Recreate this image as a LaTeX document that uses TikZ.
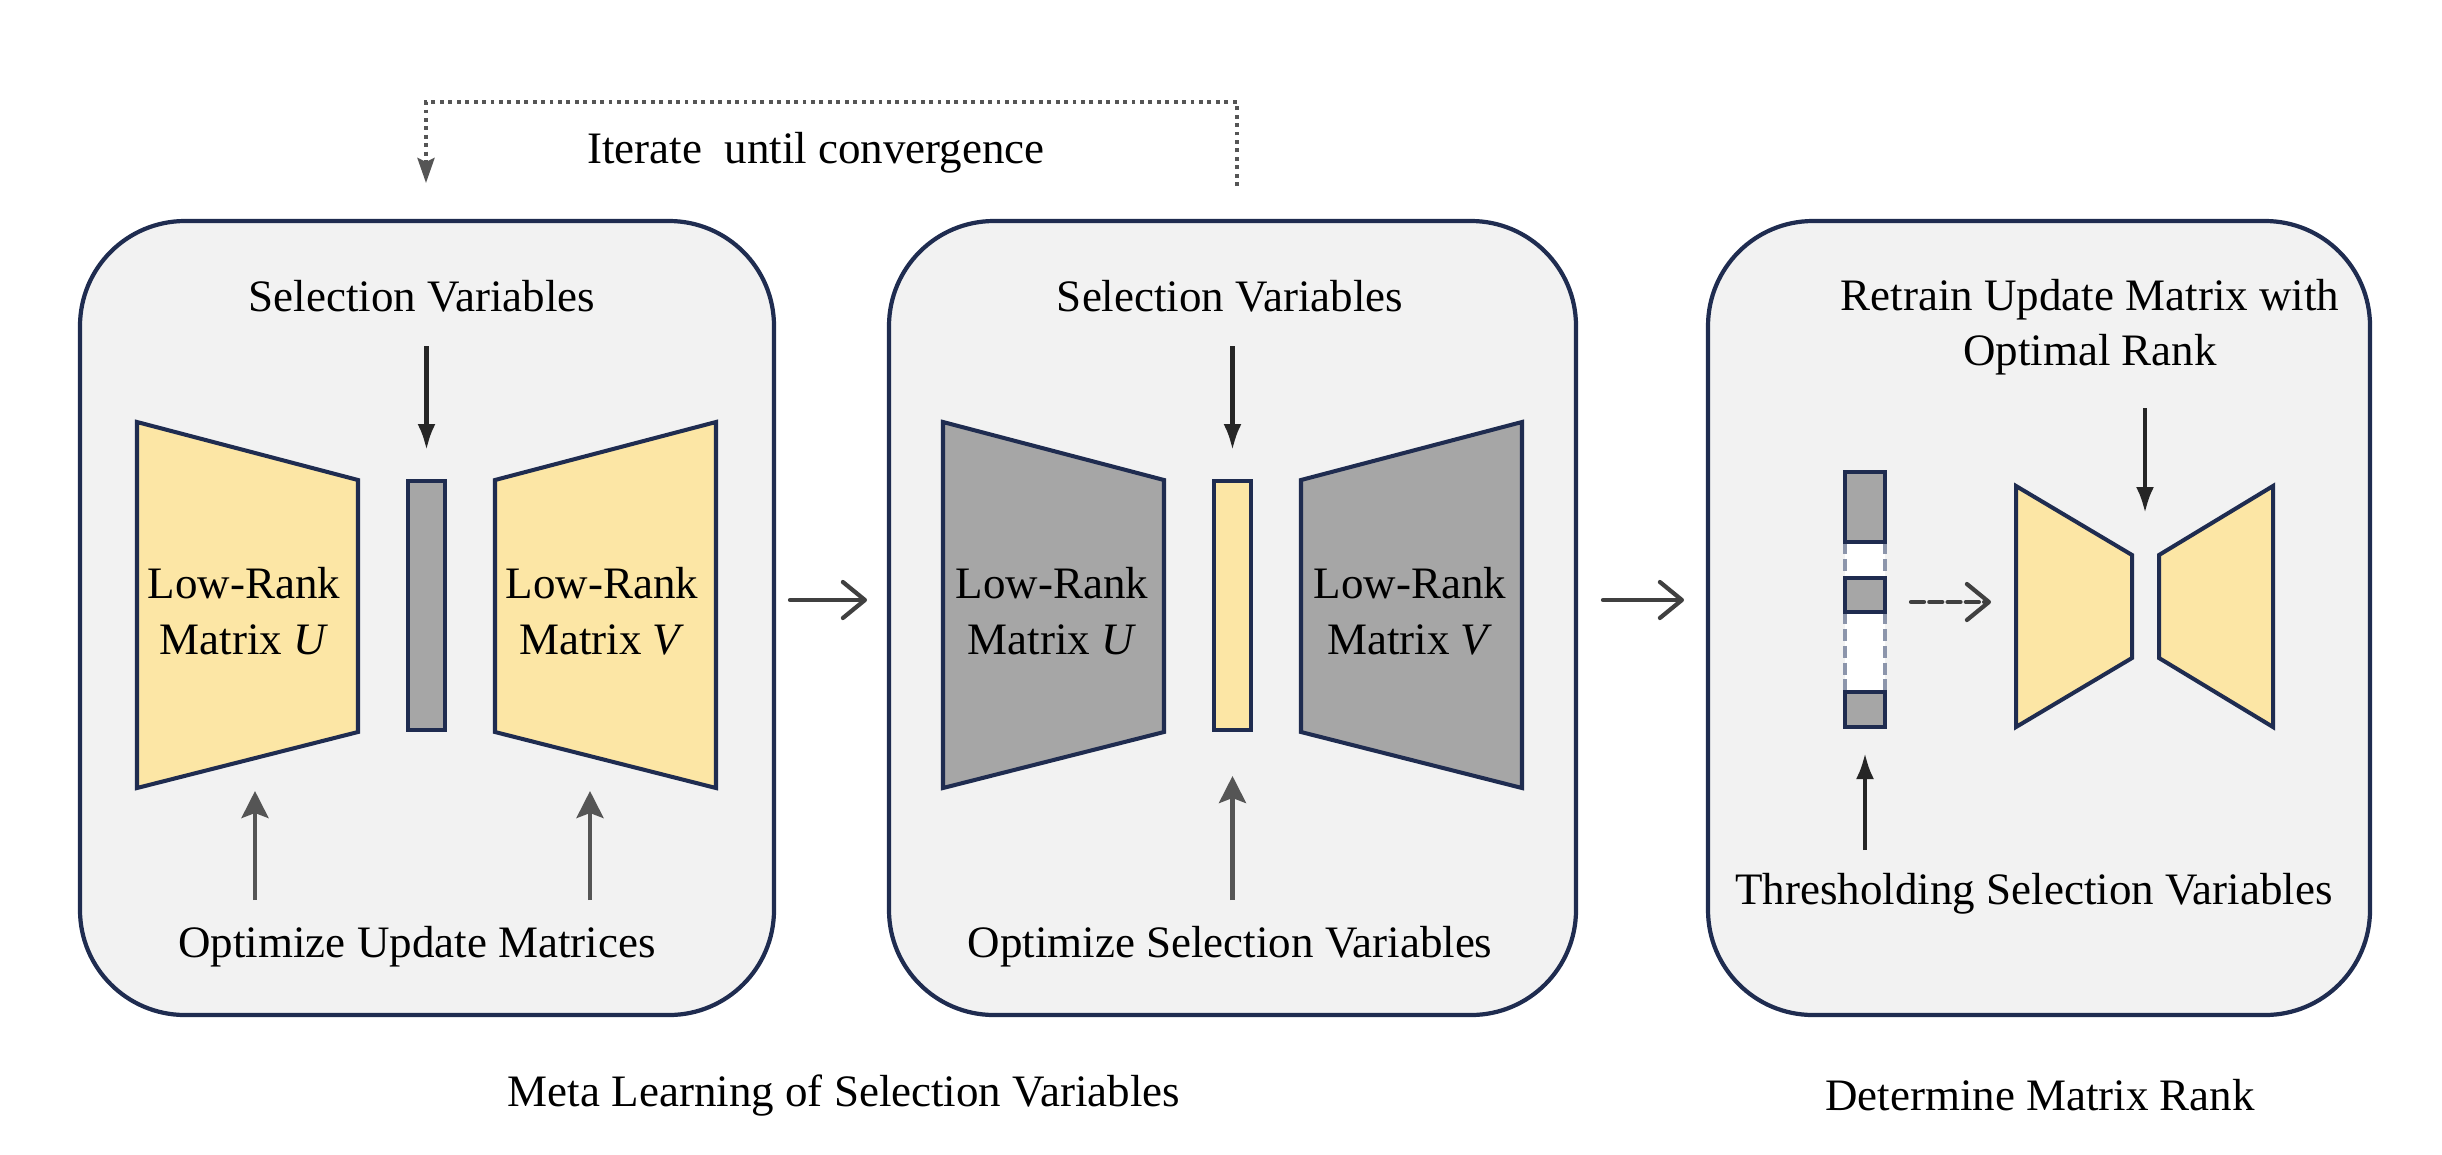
\documentclass[tikz,border=0pt]{standalone}
\usepackage{fontspec}
\setmainfont{Liberation Serif}
\usetikzlibrary{arrows.meta}
\definecolor{panelfill}{HTML}{F2F2F2}
\definecolor{navy}{HTML}{1F2C50}
\definecolor{lowrank}{HTML}{FCE6A5}
\definecolor{frozen}{HTML}{A6A6A6}
\definecolor{inkdark}{HTML}{262626}
\definecolor{inkgray}{HTML}{555555}
\definecolor{inkstep}{HTML}{404040}
\definecolor{pruned}{HTML}{8C95AB}
\tikzset{
  panel/.style={draw=navy,fill=panelfill,line width=1.2pt,rounded corners=1.05cm},
  matblock/.style={draw=navy,line width=1.15pt,line join=miter},
  txt/.style={font=\fontsize{12.8}{15.8}\selectfont,align=center,inner sep=0pt},
  pushdown/.style={draw=inkdark,line width=1.2pt,-{Latex[length=0.26cm,width=0.18cm]}},
  pushup/.style={draw=inkgray,line width=1.2pt,-{Stealth[length=0.27cm,width=0.27cm,inset=0.05cm]}},
  stepto/.style={draw=inkstep,line width=1.2pt,line cap=round,-{Straight Barb[length=0.22cm,width=0.36cm,round]}}
}
\begin{document}
\begin{tikzpicture}[y=-1cm]
  \useasboundingbox (0,0) rectangle (24.42,11.54);
  % panels
  \draw[panel] (0.80,2.21) rectangle (7.74,10.15);
  \draw[panel] (8.89,2.21) rectangle (15.76,10.15);
  \draw[panel] (17.08,2.21) rectangle (23.70,10.15);
  % iteration loop
  \coordinate (loopstart) at (12.37,1.86);
  \coordinate (loopend) at (4.26,1.83);
  \draw[draw=inkgray,line width=1.1pt,dash pattern=on 1.1pt off 1.3pt,-{Stealth[length=0.25cm,width=0.17cm,inset=0.04cm]}]
    (loopstart) -- (12.37,1.02) -- (4.26,1.02) -- (loopend);
  \node[txt] (iter) at (8.16,1.53) {Iterate\ \ until convergence};
  % panel 1: optimize update matrices
  \draw[matblock,fill=lowrank] (1.37,4.22) -- (3.58,4.80) -- (3.58,7.32) -- (1.37,7.88) -- cycle;
  \draw[matblock,fill=frozen] (4.08,4.81) rectangle (4.45,7.30);
  \draw[matblock,fill=lowrank] (4.95,4.80) -- (7.16,4.22) -- (7.16,7.88) -- (4.95,7.32) -- cycle;
  \node[txt] (u1) at (2.44,6.11) {Low-Rank\\Matrix \textit{U}};
  \node[txt] (v1) at (6.02,6.11) {Low-Rank\\Matrix \textit{V}};
  \node[txt] (sel1) at (4.22,2.96) {Selection Variables};
  \node[txt] (opt1) at (4.17,9.47) {Optimize Update Matrices};
  \coordinate (sel1out) at (4.265,3.46);
  \coordinate (bar1top) at (4.265,4.50);
  \coordinate (opt1u) at (2.55,9.00);
  \coordinate (opt1v) at (5.90,9.00);
  \coordinate (u1low) at (2.55,7.91);
  \coordinate (v1low) at (5.90,7.91);
  \draw[pushdown] (sel1out) -- (bar1top);
  \draw[pushup] (opt1u) -- (u1low);
  \draw[pushup] (opt1v) -- (v1low);
  % panel 2: optimize selection variables
  \draw[matblock,fill=frozen] (9.43,4.22) -- (11.64,4.80) -- (11.64,7.32) -- (9.43,7.88) -- cycle;
  \draw[matblock,fill=lowrank] (12.14,4.81) rectangle (12.51,7.30);
  \draw[matblock,fill=frozen] (13.01,4.80) -- (15.22,4.22) -- (15.22,7.88) -- (13.01,7.32) -- cycle;
  \node[txt] (u2) at (10.52,6.11) {Low-Rank\\Matrix \textit{U}};
  \node[txt] (v2) at (14.10,6.11) {Low-Rank\\Matrix \textit{V}};
  \node[txt] (sel2) at (12.30,2.96) {Selection Variables};
  \node[txt] (opt2) at (12.30,9.47) {Optimize Selection Variables};
  \coordinate (sel2out) at (12.325,3.46);
  \coordinate (bar2top) at (12.325,4.50);
  \coordinate (opt2s) at (12.325,9.00);
  \coordinate (bar2low) at (12.325,7.76);
  \draw[pushdown] (sel2out) -- (bar2top);
  \draw[pushup] (opt2s) -- (bar2low);
  % steps between panels
  \coordinate (p1out) at (7.90,6.00);
  \coordinate (p2in) at (8.67,6.00);
  \coordinate (p2out) at (16.03,6.00);
  \coordinate (p3in) at (16.84,6.00);
  \draw[stepto] (p1out) -- (p2in);
  \draw[stepto] (p2out) -- (p3in);
  % panel 3: thresholded selection and retrain
  \fill[white] (18.45,5.42) rectangle (18.85,5.78);
  \fill[white] (18.45,6.12) rectangle (18.85,6.92);
  \foreach \x in {18.45,18.85}
    \draw[pruned,line width=1.1pt,dash pattern=on 3.4pt off 1.4pt] (\x,5.42) -- (\x,5.78) (\x,6.12) -- (\x,6.92);
  \draw[matblock,fill=frozen] (18.45,4.72) rectangle (18.85,5.42);
  \draw[matblock,fill=frozen] (18.45,5.78) rectangle (18.85,6.12);
  \draw[matblock,fill=frozen] (18.45,6.92) rectangle (18.85,7.27);
  \draw[matblock,fill=lowrank] (20.16,4.86) -- (21.32,5.55) -- (21.32,6.58) -- (20.16,7.27) -- cycle;
  \draw[matblock,fill=lowrank] (21.59,5.55) -- (22.73,4.86) -- (22.73,7.27) -- (21.59,6.58) -- cycle;
  \node[txt] (retrain) at (20.90,3.27) {Retrain Update Matrix with\\Optimal Rank};
  \node[txt] (thresh) at (20.34,8.94) {Thresholding Selection Variables};
  \coordinate (retrainout) at (21.45,4.08);
  \coordinate (gap3) at (21.45,5.13);
  \coordinate (threshout) at (18.65,8.50);
  \coordinate (bar3low) at (18.65,7.53);
  \coordinate (bar3out) at (19.11,6.02);
  \coordinate (mat3in) at (19.91,6.02);
  \draw[pushdown] (retrainout) -- (gap3);
  \draw[pushdown] (threshout) -- (bar3low);
  \draw[stepto,dash pattern=on 3.7pt off 1.5pt] (bar3out) -- (mat3in);
  % captions
  \node[txt] (meta) at (8.44,10.95) {Meta Learning of Selection Variables};
  \node[txt] (rank) at (20.40,10.95) {Determine Matrix Rank};
\end{tikzpicture}
\end{document}
